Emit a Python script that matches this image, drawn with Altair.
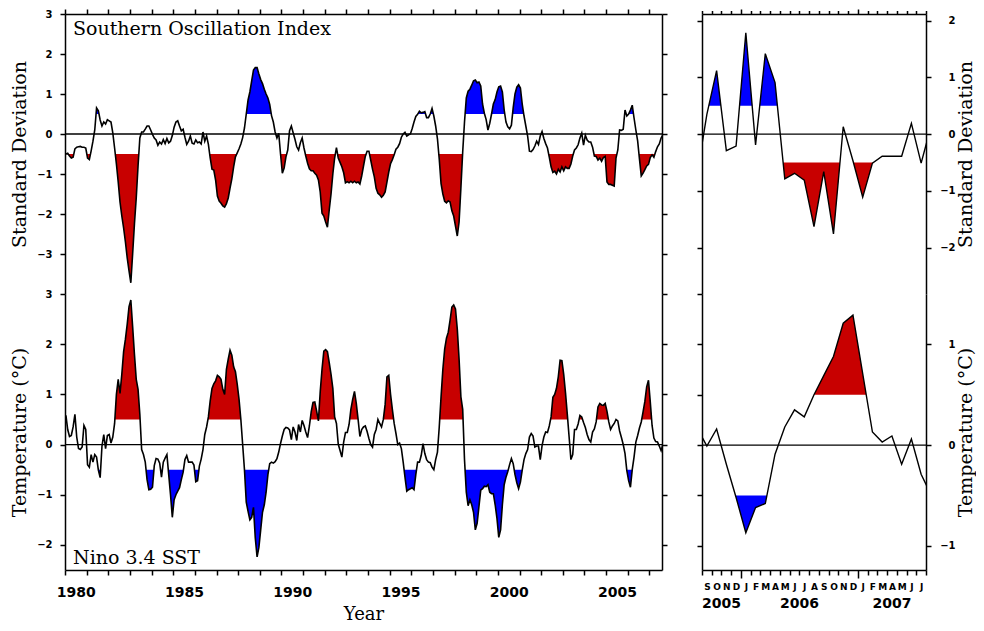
import altair as alt
import pandas as pd

# ---------------- values ----------------
# Southern Oscillation Index (smoothed, standard deviations), monthly Jan 1980 .. Aug 2007
soi_1980 = [-0.50, -0.48, -0.55, -0.60, -0.58, -0.37, -0.33, -0.32, -0.31, -0.33, -0.33, -0.35]
soi_1981 = [-0.60, -0.64, -0.42, -0.18, 0.10, 0.65, 0.58, 0.35, 0.20, 0.30, 0.25, 0.36]
soi_1982 = [0.33, 0.30, 0.03, -0.35, -0.75, -1.20, -1.70, -2.05, -2.35, -2.70, -3.10, -3.42]
soi_1983 = [-3.72, -3.00, -2.25, -1.60, -0.80, -0.10, 0.05, 0.05, 0.12, 0.20, 0.20, 0.10]
soi_1984 = [-0.01, -0.10, -0.15, -0.28, -0.20, -0.25, -0.14, -0.24, -0.11, -0.22, -0.18, -0.04]
soi_1985 = [0.17, 0.30, 0.33, 0.20, 0.08, 0.12, -0.08, -0.26, -0.18, -0.05, -0.23, -0.25]
soi_1986 = [-0.15, -0.22, -0.20, -0.25, 0.05, -0.18, -0.05, -0.26, -0.60, -0.88, -0.90, -1.15]
soi_1987 = [-1.55, -1.68, -1.73, -1.80, -1.83, -1.74, -1.60, -1.35, -1.12, -0.82, -0.57, -0.47]
soi_1988 = [-0.37, -0.25, -0.09, 0.15, 0.50, 0.85, 1.05, 1.33, 1.60, 1.66, 1.66, 1.50]
soi_1989 = [1.36, 1.26, 1.12, 1.00, 0.90, 0.74, 0.46, 0.30, 0.05, -0.10, 0.02, -0.50]
soi_1990 = [-0.98, -0.85, -0.57, -0.40, 0.08, 0.20, 0.03, -0.13, -0.32, -0.40, -0.22, -0.10]
soi_1991 = [-0.35, -0.55, -0.73, -0.87, -0.92, -0.92, -0.98, -1.03, -1.15, -1.45, -1.98, -2.05]
soi_1992 = [-2.20, -2.33, -1.90, -1.50, -1.00, -0.60, -0.34, -0.60, -0.71, -0.82, -0.97, -1.22]
soi_1993 = [-1.19, -1.22, -1.18, -1.22, -1.18, -1.22, -1.20, -1.25, -1.05, -0.80, -0.56, -0.43]
soi_1994 = [-0.43, -0.65, -0.88, -1.07, -1.36, -1.48, -1.52, -1.58, -1.53, -1.45, -1.20, -0.95]
soi_1995 = [-0.74, -0.64, -0.52, -0.38, -0.33, -0.24, -0.08, 0.00, 0.04, -0.05, -0.02, 0.00]
soi_1996 = [0.14, 0.30, 0.44, 0.49, 0.57, 0.53, 0.54, 0.56, 0.41, 0.41, 0.50, 0.64]
soi_1997 = [0.45, 0.20, -0.12, -0.63, -1.24, -1.50, -1.68, -1.72, -1.67, -1.70, -1.92, -2.05]
soi_1998 = [-2.30, -2.55, -2.20, -1.35, -0.45, 0.30, 0.90, 1.07, 1.12, 1.22, 1.33, 1.35]
soi_1999 = [1.28, 1.30, 1.20, 0.75, 0.52, 0.36, 0.10, 0.27, 0.50, 0.75, 0.86, 1.05]
soi_2000 = [1.18, 1.20, 1.05, 0.60, 0.30, 0.18, 0.13, 0.22, 0.66, 1.00, 1.17, 1.23]
soi_2001 = [1.15, 0.75, 0.45, 0.20, -0.05, -0.43, -0.44, -0.39, -0.30, -0.18, -0.26, -0.05]
soi_2002 = [0.06, -0.11, -0.24, -0.35, -0.58, -0.82, -0.96, -0.93, -1.00, -0.88, -0.95, -0.82]
soi_2003 = [-0.92, -0.82, -0.86, -0.86, -0.75, -0.55, -0.40, -0.35, -0.27, -0.10, 0.02, -0.28]
soi_2004 = [-0.03, -0.15, -0.20, -0.20, -0.33, -0.55, -0.56, -0.65, -0.60, -0.68, -0.59, -0.56]
soi_2005 = [-1.20, -1.26, -1.26, -1.28, -1.30, -0.60, -0.40, 0.10, 0.09, 0.12, 0.60, 0.45]
soi_2006 = [0.50, 0.60, 0.72, 0.40, 0.10, -0.17, -0.62, -1.05, -0.98, -0.89, -0.80, -0.76]
soi_2007 = [-0.59, -0.52, -0.58, -0.44, -0.32, -0.25, -0.10, -0.02]

# Nino 3.4 SST anomaly (deg C), monthly Jan 1980 .. Aug 2007
sst_1980 = [0.58, 0.30, 0.16, 0.18, 0.35, 0.60, 0.15, -0.08, -0.10, -0.05, 0.38, 0.30]
sst_1981 = [-0.40, -0.45, -0.20, -0.35, -0.20, -0.25, -0.51, -0.66, -0.03, 0.20, -0.08, 0.18]
sst_1982 = [0.20, 0.03, 0.15, 0.42, 1.00, 1.30, 1.02, 1.40, 1.85, 2.10, 2.40, 2.75]
sst_1983 = [2.88, 2.35, 1.80, 1.30, 1.10, 0.60, -0.10, -0.20, -0.35, -0.70, -0.90, -0.89]
sst_1984 = [-0.85, -0.42, -0.28, -0.29, -0.37, -0.65, -0.35, -0.27, -0.20, -0.60, -1.00, -1.45]
sst_1985 = [-1.10, -1.00, -0.93, -0.86, -0.70, -0.55, -0.30, -0.22, -0.35, -0.35, -0.35, -0.41]
sst_1986 = [-0.74, -0.72, -0.43, -0.29, -0.10, 0.20, 0.35, 0.55, 0.87, 1.12, 1.21, 1.27]
sst_1987 = [1.38, 1.35, 1.30, 1.10, 1.00, 1.50, 1.70, 1.88, 1.78, 1.55, 1.45, 1.20]
sst_1988 = [0.90, 0.50, 0.00, -0.50, -1.15, -1.33, -1.50, -1.45, -1.25, -1.86, -2.24, -2.05]
sst_1989 = [-1.70, -1.35, -1.20, -0.95, -0.60, -0.38, -0.35, -0.37, -0.34, -0.28, -0.15, 0.02]
sst_1990 = [0.17, 0.30, 0.34, 0.33, 0.29, 0.10, 0.35, 0.25, 0.08, 0.40, 0.25, 0.48]
sst_1991 = [0.38, 0.25, 0.14, 0.37, 0.65, 0.84, 0.85, 0.67, 0.47, 1.05, 1.50, 1.86]
sst_1992 = [1.89, 1.85, 1.63, 1.40, 1.12, 0.55, 0.42, 0.01, -0.12, -0.25, 0.05, 0.24]
sst_1993 = [0.24, 0.40, 0.70, 0.90, 1.06, 0.82, 0.50, 0.16, 0.30, 0.35, 0.37, 0.26]
sst_1994 = [0.12, 0.00, -0.05, 0.20, 0.30, 0.50, 0.42, 0.35, 0.50, 0.80, 1.35, 1.38]
sst_1995 = [1.00, 0.70, 0.42, 0.22, 0.00, 0.03, -0.08, -0.35, -0.65, -0.93, -0.90, -0.88]
sst_1996 = [-0.86, -0.90, -0.60, -0.35, -0.35, -0.22, 0.02, -0.18, -0.30, -0.35, -0.36, -0.45]
sst_1997 = [-0.50, -0.30, -0.15, 0.35, 0.95, 1.50, 1.90, 2.12, 2.24, 2.48, 2.74, 2.78]
sst_1998 = [2.70, 2.30, 1.70, 0.95, 0.70, -0.30, -0.95, -1.22, -1.10, -1.20, -1.35, -1.70]
sst_1999 = [-1.57, -1.24, -0.91, -0.88, -0.83, -0.84, -0.80, -0.95, -0.98, -0.98, -1.20, -1.47]
sst_2000 = [-1.85, -1.70, -1.20, -0.80, -0.65, -0.54, -0.40, -0.28, -0.38, -0.60, -0.76, -0.88]
sst_2001 = [-0.75, -0.51, -0.30, -0.18, -0.10, 0.15, 0.22, 0.17, -0.05, -0.03, -0.03, -0.30]
sst_2002 = [-0.02, 0.15, 0.25, 0.24, 0.37, 0.55, 0.94, 1.00, 1.12, 1.35, 1.68, 1.67]
sst_2003 = [1.40, 1.03, 0.60, 0.15, -0.30, -0.20, 0.30, 0.30, 0.41, 0.58, 0.55, 0.44]
sst_2004 = [0.34, 0.20, 0.10, 0.05, 0.25, 0.31, 0.45, 0.75, 0.82, 0.79, 0.78, 0.82]
sst_2005 = [0.66, 0.45, 0.30, 0.37, 0.42, 0.50, 0.47, 0.27, 0.14, 0.00, -0.18, -0.52]
sst_2006 = [-0.72, -0.85, -0.50, -0.25, 0.05, 0.18, 0.33, 0.45, 0.65, 0.86, 1.15, 1.28]
sst_2007 = [0.85, 0.38, 0.13, 0.06, 0.05, -0.03, -0.12, 0.00]

# zoomed panels, monthly Aug 2005 .. Aug 2007 (raw monthly values)
soi_zoom = [-0.71, 0.35, 1.12, -0.29, -0.21, 1.79, -0.19, 1.42, 0.91, -0.79, -0.69, -0.81,
            -1.63, -0.66, -1.76, 0.13, -0.47, -1.11, -0.51, -0.39, -0.39, -0.39, 0.19, -0.51, 0.13]
sst_zoom = [0.17, -0.01, 0.16, -0.19, -0.52, -0.87, -0.62, -0.58, -0.09, 0.18, 0.35, 0.28,
            0.50, 0.69, 0.88, 1.21, 1.29, 0.71, 0.13, 0.03, 0.09, -0.19, 0.06, -0.29, -0.49]

title_soi = "Southern Oscillation Index"
title_sst = "Nino 3.4 SST"
zoom_years = ["2005", "2006", "2007"]
zoom_year_pos = [2005 + 10 / 12, 2006.5, 2007 + 3.5 / 12]

RED = "#c80000"
BLUE = "#0000ff"

soi = (soi_1980 + soi_1981 + soi_1982 + soi_1983 + soi_1984 + soi_1985 + soi_1986 + soi_1987
       + soi_1988 + soi_1989 + soi_1990 + soi_1991 + soi_1992 + soi_1993 + soi_1994 + soi_1995
       + soi_1996 + soi_1997 + soi_1998 + soi_1999 + soi_2000 + soi_2001 + soi_2002 + soi_2003
       + soi_2004 + soi_2005 + soi_2006 + soi_2007)
sst = (sst_1980 + sst_1981 + sst_1982 + sst_1983 + sst_1984 + sst_1985 + sst_1986 + sst_1987
       + sst_1988 + sst_1989 + sst_1990 + sst_1991 + sst_1992 + sst_1993 + sst_1994 + sst_1995
       + sst_1996 + sst_1997 + sst_1998 + sst_1999 + sst_2000 + sst_2001 + sst_2002 + sst_2003
       + sst_2004 + sst_2005 + sst_2006 + sst_2007)

x_long = [1980 + (i + 0.5) / 12 for i in range(len(soi))]
x_zoom = [2005 + (7 + k + 0.5) / 12 for k in range(len(soi_zoom))]

X_LONG = [1980, 2007 + 7 / 12]
X_ZOOM = [2005 + 8 / 12, 2007 + 7 / 12]
W_L, W_R, H_T, H_B = 597, 224, 280, 276


def fill_rows(xv, vv, t, above):
    rows = []
    for i in range(len(xv)):
        if i > 0:
            a = vv[i - 1] - t
            b = vv[i] - t
            if a * b < 0:
                f = a / (a - b)
                rows.append((xv[i - 1] + f * (xv[i] - xv[i - 1]), t, t))
        v = vv[i]
        rows.append((xv[i], max(v, t) if above else min(v, t), t))
    return pd.DataFrame(rows, columns=["x", "y", "y2"])


def panel(xv, vv, xdom, ydom, w, h, up_col, dn_col, xaxis, yleft, yright, extra, lw):
    xs = alt.Scale(domain=xdom, nice=False, zero=False)
    ys = alt.Scale(domain=ydom, nice=False, zero=False)
    df = pd.DataFrame({"x": xv, "v": vv})

    def area(d, c):
        return alt.Chart(d).mark_area(color=c, clip=True).encode(
            x=alt.X("x:Q", scale=xs, axis=None),
            y=alt.Y("y:Q", scale=ys, axis=None),
            y2="y2:Q",
        )

    up = area(fill_rows(xv, vv, 0.5, True), up_col)
    dn = area(fill_rows(xv, vv, -0.5, False), dn_col)
    zero = alt.Chart(pd.DataFrame({"z": [0]})).mark_rule(color="black", strokeWidth=1.3).encode(
        y=alt.Y("z:Q", scale=ys, axis=None)
    )
    line = alt.Chart(df).mark_line(color="black", strokeWidth=lw, clip=True).encode(
        x=alt.X("x:Q", scale=xs, axis=xaxis),
        y=alt.Y("v:Q", scale=ys, axis=yleft),
    )
    ghost = alt.Chart(df).mark_line(opacity=0, clip=True).encode(
        x=alt.X("x:Q", scale=xs, axis=None),
        y=alt.Y("v:Q", scale=ys, axis=yright),
    )
    layers = [up, dn, zero, line, ghost] + [e(xs) for e in extra]
    return alt.layer(*layers).resolve_axis(x="independent", y="independent").properties(
        width=w, height=h
    )


def label_text(txt, px, py):
    def make(xs):
        return alt.Chart(pd.DataFrame({"t": [txt]})).mark_text(
            align="left", baseline="alphabetic", font="DejaVu Serif", fontSize=19, color="black"
        ).encode(text="t:N", x=alt.value(px), y=alt.value(py))
    return make


def zoom_years_text(xs):
    return alt.Chart(pd.DataFrame({"x": zoom_year_pos, "t": zoom_years})).mark_text(
        align="center", baseline="middle", font="DejaVu Sans", fontWeight="bold",
        fontSize=14, color="black"
    ).encode(text="t:N", x=alt.X("x:Q", scale=xs, axis=None), y=alt.value(309.5))


years = list(range(1980, 2008))
month_ticks = [2005 + (8 + j) / 12 for j in range(24)]
major_test = "abs(datum.value - round(datum.value)) < 0.001"
month_expr = ("datum.value > 2007.55 ? '' : substring('JFMAMJJASOND', "
              "round((datum.value - floor(datum.value + 0.001)) * 12), "
              "round((datum.value - floor(datum.value + 0.001)) * 12) + 1)")

LEFT_TX = -39.5
RIGHT_TX = 45.5

# ---------- top-left: SOI ----------
tl = panel(
    x_long, soi, X_LONG, [-4, 3], W_L, H_T, BLUE, RED,
    alt.Axis(orient="top", values=years, labels=False, tickSize=5, title=None, zindex=1),
    alt.Axis(orient="left", values=[-3, -2, -1, 0, 1, 2, 3], format="d", tickSize=5,
             labelPadding=8, labelFontSize=10, title="Standard Deviation",
             titleX=LEFT_TX, titleY=H_T / 2, titleAngle=270, titleAlign="center",
             titleBaseline="alphabetic", zindex=1),
    alt.Axis(orient="right", values=[-3, -2, -1, 0, 1, 2, 3], labels=False, tickSize=5,
             title=None, zindex=1),
    [label_text(title_soi, 8, 21)], 1.6,
)

# ---------- bottom-left: Nino 3.4 ----------
bl = panel(
    x_long, sst, X_LONG, [-2.5, 3], W_L, H_B, RED, BLUE,
    alt.Axis(orient="bottom", values=years, format="d",
             labelExpr="datum.value % 5 === 0 ? datum.label : ''",
             labelOffset=10.8, labelPadding=10, labelFontSize=14, labelBaseline="top",
             tickSize=5, title="Year", titleFontSize=18, titleX=W_L / 2, titleY=49.5,
             titleAlign="center", titleBaseline="alphabetic", zindex=1),
    alt.Axis(orient="left", values=[-2, -1, 0, 1, 2, 3], format="d", tickSize=5,
             labelPadding=8, labelFontSize=10, title="Temperature (°C)",
             titleX=LEFT_TX, titleY=H_B / 2, titleAngle=270, titleAlign="center",
             titleBaseline="alphabetic", zindex=1),
    alt.Axis(orient="right", values=[-2, -1, 0, 1, 2, 3], labels=False, tickSize=5,
             title=None, zindex=1),
    [label_text(title_sst, 8, 270)], 1.6,
)

# ---------- top-right: SOI zoom ----------
tr = panel(
    x_zoom, soi_zoom, X_ZOOM, [-2.82, 2.12], W_R, H_T, BLUE, RED,
    alt.Axis(orient="top", values=month_ticks, labels=False,
             tickSize=alt.condition(major_test, alt.value(5), alt.value(3.5)),
             title=None, zindex=1),
    alt.Axis(orient="left", values=[-2, -1, 0, 1, 2], labels=False, tickSize=5,
             title=None, zindex=1),
    alt.Axis(orient="right", values=[-2, -1, 0, 1, 2], format="d", tickSize=5,
             labelAlign="right", labelPadding=24, labelFontSize=10,
             title="Standard Deviation", titleX=RIGHT_TX, titleY=H_T / 2, titleAngle=270,
             titleAlign="center", titleBaseline="alphabetic", zindex=1),
    [], 1.4,
)

# ---------- bottom-right: Nino 3.4 zoom ----------
br = panel(
    x_zoom, sst_zoom, X_ZOOM, [-1.24, 1.5], W_R, H_B, RED, BLUE,
    alt.Axis(orient="bottom", values=month_ticks, labelExpr=month_expr,
             tickSize=alt.condition(major_test, alt.value(8), alt.value(5)),
             labelPadding=alt.condition(major_test, alt.value(4), alt.value(7)),
             labelOffset=4.87, labelFontSize=9, labelBaseline="top",
             title=None, zindex=1),
    alt.Axis(orient="left", values=[-1, -0.5, 0, 0.5, 1, 1.5], labels=False, tickSize=5,
             title=None, zindex=1),
    alt.Axis(orient="right", values=[-1, -0.5, 0, 0.5, 1, 1.5], format="d",
             labelExpr="datum.value % 1 === 0 ? datum.label : ''", tickSize=5,
             labelAlign="right", labelPadding=24, labelFontSize=10,
             title="Temperature (°C)", titleX=RIGHT_TX, titleY=H_B / 2, titleAngle=270,
             titleAlign="center", titleBaseline="alphabetic", zindex=1),
    [zoom_years_text], 1.4,
)

chart = alt.ConcatChart(
    concat=[tl, tr, bl, br], columns=2, spacing={"row": 0, "column": 40},
    bounds="flush", align="each",
).properties(
    padding={"left": 2, "top": 0, "right": 0, "bottom": 0}, background="white"
).configure_view(strokeWidth=0).configure_axis(
    grid=False, domainColor="black", domainWidth=1.5, tickColor="black", tickWidth=1.5,
    labelColor="black", labelFont="DejaVu Sans", labelFontWeight="bold",
    titleColor="black", titleFont="DejaVu Serif", titleFontWeight="normal", titleFontSize=19,
    labelFlush=False, labelOverlap=False,
)

chart.save("out.html", embed_options={"renderer": "svg", "actions": False})
